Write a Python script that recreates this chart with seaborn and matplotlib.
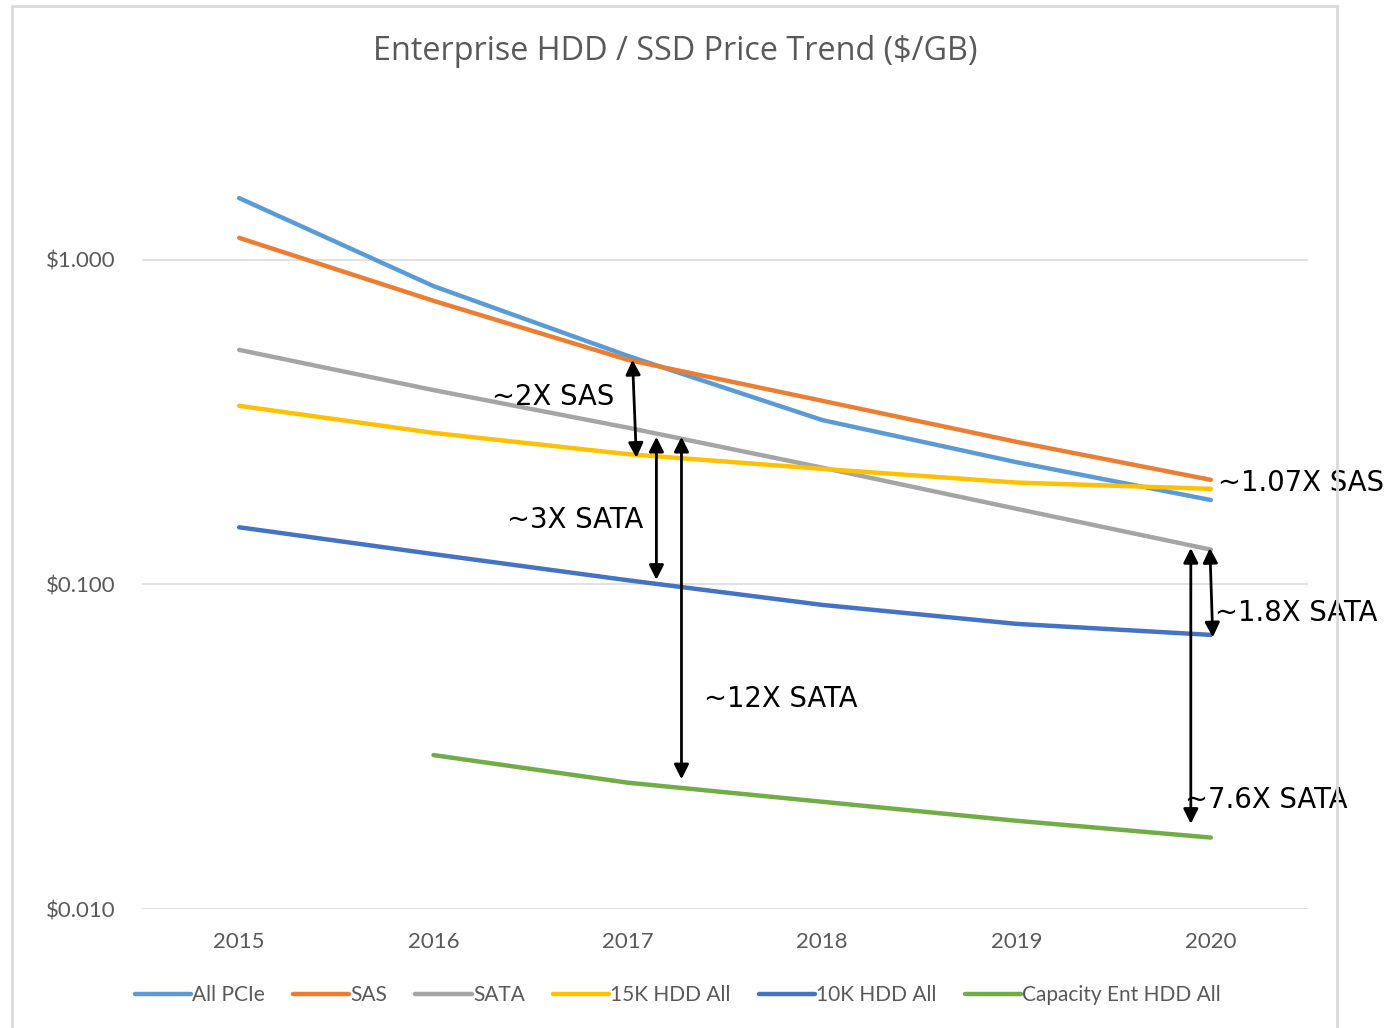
import numpy as np
import pandas as pd
import matplotlib
matplotlib.use("Agg")
import matplotlib.pyplot as plt
from matplotlib.patches import Rectangle
import seaborn as sns

years = ["2015", "2016", "2017", "2018", "2019", "2020"]
all_pcie = [1.55, 0.83, 0.506, 0.321, 0.238, 0.182]
sas = [1.169, 0.748, 0.492, 0.368, 0.275, 0.210]
sata = [0.528, 0.397, 0.304, 0.229, 0.171, 0.128]
hdd_15k = [0.355, 0.293, 0.252, 0.227, 0.206, 0.197]
hdd_10k = [0.150, 0.124, 0.103, 0.0865, 0.0756, 0.0699]
capacity = [np.nan, 0.0298, 0.0245, 0.0214, 0.0187, 0.0166]

series_names = ["All PCIe", "SAS", "SATA", "15K HDD All", "10K HDD All", "Capacity Ent HDD All"]
series_vals = [all_pcie, sas, sata, hdd_15k, hdd_10k, capacity]
colors = ["#5B9BD5", "#ED7D31", "#A5A5A5", "#FFC000", "#4472C4", "#70AD47"]

title = "Enterprise HDD / SSD Price Trend ($/GB)"
ytick_vals = [0.01, 0.1, 1.0]
ytick_labels = ["$0.010", "$0.100", "$1.000"]

# annotations: (label, text x-index, text value)
labels = [
    ("~2X SAS", 1.302, 0.378),
    ("~3X SATA", 1.38, 0.158),
    ("~12X SATA", 2.394, 0.0444),
    ("~1.07X SAS", 5.036, 0.2056),
    ("~1.8X SATA", 5.02, 0.0817),
    ("~7.6X SATA", 4.866, 0.0217),
]
# arrows: (x1, y1, x2, y2) in (index, value)
arrows = [
    (2.024, 0.492, 2.044, 0.2456),
    (2.147, 0.285, 2.147, 0.1033),
    (2.276, 0.285, 2.276, 0.0251),
    (4.995, 0.1295, 5.01, 0.0687),
    (4.897, 0.1295, 4.897, 0.0183),
]

rows = []
for name, vals in zip(series_names, series_vals):
    for i, v in enumerate(vals):
        rows.append({"x": i, "value": v, "series": name})
df = pd.DataFrame(rows).dropna()

sns.set_theme(style="white")
plt.rcParams["font.family"] = ["DejaVu Sans"]

fig = plt.figure(figsize=(13.89, 10.28), dpi=100)
ax = fig.add_axes([142/1389, 1-909/1028, (1308-142)/1389, (909-105)/1028])

sns.lineplot(data=df, x="x", y="value", hue="series", hue_order=series_names,
             palette=colors, linewidth=3.2, ax=ax, legend=True)

ax.set_yscale("log")
ax.set_ylim(0.01, 3.0)
ax.set_xlim(-0.5, 5.5)
ax.set_xticks(range(len(years)))
ax.set_xticklabels(years)
ax.set_yticks(ytick_vals)
ax.set_yticklabels(ytick_labels)
ax.yaxis.set_minor_locator(matplotlib.ticker.NullLocator())
for s in ax.spines.values():
    s.set_visible(False)
ax.grid(False)
for v in ytick_vals:
    ax.axhline(v, color="#D9D9D9", lw=1.1, zorder=0)
ax.set_xlabel("")
ax.set_ylabel("")
ax.tick_params(axis="both", length=0, labelsize=16, labelcolor="#595959")
ax.tick_params(axis="x", pad=16.5)
ax.tick_params(axis="y", pad=19)
for lab in ax.get_xticklabels() + ax.get_yticklabels():
    lab.set_fontfamily("Lato")

handles, lbls = ax.get_legend_handles_labels()
ax.get_legend().remove()
leg = fig.legend(handles, lbls, loc="center", bbox_to_anchor=(0.488, 1-995/1028), ncol=6,
                 frameon=False, handlelength=2.7, handletextpad=0.05, columnspacing=1.35,
                 prop={"family": "Lato", "size": 15})
for t in leg.get_texts():
    t.set_color("#595959")
for h in leg.get_lines():
    h.set_linewidth(3.2)

fig.text(675/1389, 1-52/1028, title, ha="center", va="center", fontsize=23.3,
         color="#595959", family="Open Sans")

for txt, x, y in labels:
    ax.text(x, y, txt, ha="left", va="center", fontsize=19.8, color="black")
for x1, y1, x2, y2 in arrows:
    ax.annotate("", xy=(x2, y2), xytext=(x1, y1),
                arrowprops=dict(arrowstyle="<|-|>", color="black", lw=2,
                                mutation_scale=22, shrinkA=0, shrinkB=0))

fig.patches.append(Rectangle((12/1389, -0.01), (1337-12)/1389, 1.01-6/1028,
                             transform=fig.transFigure, fill=False,
                             edgecolor="#D9D9D9", lw=2))

fig.savefig("out.png", dpi=100)
